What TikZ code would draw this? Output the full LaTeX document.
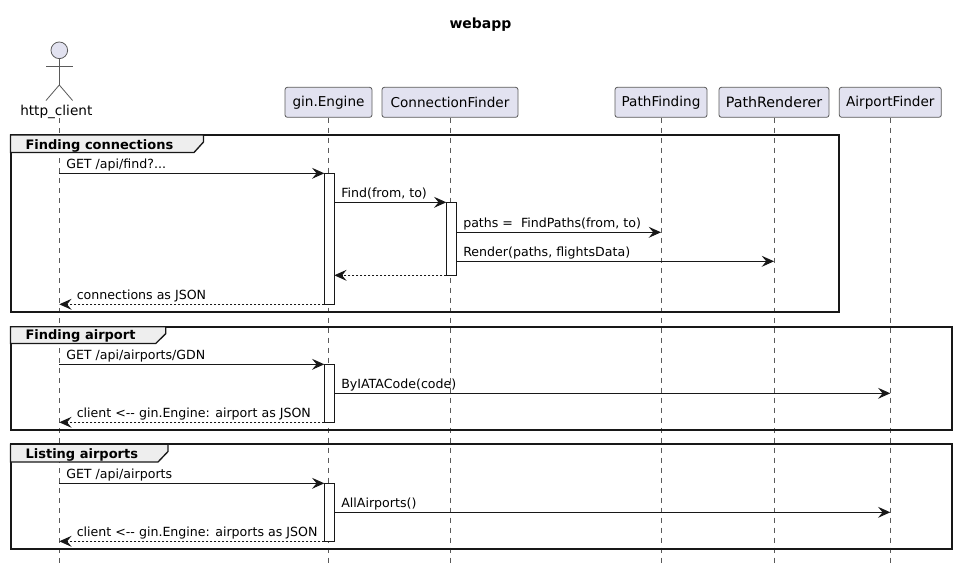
\documentclass[tikz,border=0pt]{standalone}
\usepackage{fontspec}
\setmainfont{DejaVu Sans}
\usetikzlibrary{arrows.meta}
\definecolor{boxfill}{HTML}{E2E2F0}
\definecolor{tabfill}{HTML}{EEEEEE}
\definecolor{ink}{HTML}{181818}
\definecolor{thinink}{HTML}{5A5A5A}
\tikzset{
  part/.style={draw=thinink,fill=boxfill,line width=0.6pt,rounded corners=1.8pt,inner sep=0pt,minimum height=22.5pt,font=\fontsize{10.2pt}{12pt}\selectfont},
  life/.style={draw=thinink,line width=0.5pt,dash pattern=on 3.75pt off 3.75pt},
  actbox/.style={draw=ink,fill=white,line width=0.75pt,inner sep=0pt,outer sep=0pt,minimum width=7.5pt},
  msg/.style={draw=ink,line width=0.75pt,-{Stealth[length=9.2pt,width=8.2pt,inset=3.4pt]}},
  reply/.style={msg,dash pattern=on 1.5pt off 1.5pt},
  msgtext/.style={anchor=base west,inner sep=0pt,font=\fontsize{9.45pt}{12pt}\selectfont},
  frameline/.style={draw=ink,line width=1.5pt},
  tablabel/.style={anchor=base west,inner sep=0pt,font=\fontsize{9.75pt}{12pt}\selectfont\bfseries},
  stick/.style={draw=thinink,line width=0.6pt},
}
\begin{document}
\begin{tikzpicture}[x=0.75pt,y=0.75pt,yscale=-1,xscale=1]
\useasboundingbox (0,0) rectangle (956,572);

% Title
\node[anchor=base,inner sep=0pt,font=\fontsize{10.5pt}{12pt}\selectfont\bfseries] (title) at (480.5,28) {webapp};

% Participants
\node[part,minimum width=65.25pt] (gin) at (328.5,102.3) {gin.Engine};
\node[part,minimum width=102pt] (connfinder) at (450,102.3) {ConnectionFinder};
\node[part,minimum width=69pt] (pathfinding) at (661,102.3) {PathFinding};
\node[part,minimum width=82.5pt,font=\fontsize{10.7pt}{12pt}\selectfont] (pathrenderer) at (774,102.3) {PathRenderer};
\node[part,minimum width=76.5pt] (airportfinder) at (890.3,102.3) {AirportFinder};

% Actor
\node[draw=thinink,fill=boxfill,line width=0.6pt,circle,inner sep=0pt,minimum size=12.5pt] (head) at (59.3,50.3) {};
\coordinate (hip) at (59.3,85);
\coordinate (armL) at (46,66.3);
\coordinate (armR) at (72.6,66.3);
\coordinate (footL) at (46,100.5);
\coordinate (footR) at (72.6,100.5);
\draw[stick] (head.south) -- (hip);
\draw[stick] (armL) -- (armR);
\draw[stick] (footL) -- (hip) -- (footR);
\node[anchor=base,inner sep=0pt,font=\fontsize{10.2pt}{12pt}\selectfont] (client) at (56.3,115) {http\_client};

% Lifelines
\coordinate (clienttop) at (59.3,118);
\coordinate (clientend) at (59.3,564);
\coordinate (ginend) at (328.5,564);
\coordinate (connend) at (450,564);
\coordinate (pathfindend) at (661,564);
\coordinate (pathrendend) at (774,564);
\coordinate (airportend) at (890.3,564);
\draw[life] (clienttop) -- (clientend);
\draw[life] (gin.south) -- (ginend);
\draw[life] (connfinder.south) -- (connend);
\draw[life] (pathfinding.south) -- (pathfindend);
\draw[life] (pathrenderer.south) -- (pathrendend);
\draw[life] (airportfinder.south) -- (airportend);

% Group frames
\draw[frameline] (10.5,135) rectangle (839,312.3);
\draw[frameline] (10.5,326.7) rectangle (951.5,430.3);
\draw[frameline] (10.5,444.3) rectangle (951.5,549.3);

% Group tabs
\draw[frameline,line width=1pt,fill=tabfill] (10.5,135) -- (203.5,135) -- (203.5,142) -- (194,152.5) -- (10.5,152.5) -- cycle;
\node[tablabel] (tabconn) at (25.3,149) {Finding connections};
\draw[frameline,line width=1pt,fill=tabfill] (10.5,326.7) -- (165.7,326.7) -- (165.7,333.7) -- (155.7,343.5) -- (10.5,343.5) -- cycle;
\node[tablabel] (tabfind) at (25.3,339.8) {Finding airport};
\draw[frameline,line width=1pt,fill=tabfill] (10.5,444.3) -- (168,444.3) -- (168,451.5) -- (158,462) -- (10.5,462) -- cycle;
\node[tablabel] (tablist) at (25.3,458.3) {Listing airports};

% Activations
\node[actbox,minimum height=98.25pt] (actgin) at (329.3,238.8) {};
\node[actbox,minimum height=54.75pt] (actconn) at (451.3,238.8) {};
\node[actbox,minimum height=43.5pt] (actginb) at (329.3,393.3) {};
\node[actbox,minimum height=43.5pt] (actginc) at (329.3,512.3) {};

% Free ends of the messages
\coordinate (m1) at (59.3,173.3);
\coordinate (m2a) at (334.3,202.3);
\coordinate (m3a) at (661,232.3);
\coordinate (m3b) at (456.3,232.3);
\coordinate (m4a) at (774,261.3);
\coordinate (m4b) at (456.3,261.3);
\coordinate (m5a) at (334.3,275.3);
\coordinate (m6) at (59.3,304.3);
\coordinate (m7) at (59.3,364.3);
\coordinate (m8a) at (334.3,393.3);
\coordinate (m8b) at (890.3,393.3);
\coordinate (m9) at (59.3,422.3);
\coordinate (m10) at (59.3,483.3);
\coordinate (m11a) at (334.3,512.3);
\coordinate (m11b) at (890.3,512.3);
\coordinate (m12) at (59.3,541.3);

% Messages
\draw[msg] (m1) -- (actgin.north west);
\node[msgtext] (l1) at (66,168.3) {GET /api/find?...};
\draw[msg] (m2a) -- (actconn.north west);
\node[msgtext] (l2) at (341,197.3) {Find(from, to)};
\draw[msg] (m3b) -- (m3a);
\node[msgtext] (l3) at (463,227.3) {paths =\ \ FindPaths(from, to)};
\draw[msg] (m4b) -- (m4a);
\node[msgtext] (l4) at (463,256.3) {Render(paths, flightsData)};
\draw[reply] (actconn.south west) -- (m5a);
\draw[reply] (actgin.south west) -- (m6);
\node[msgtext] (l6) at (76.5,299.3) {connections as JSON};
\draw[msg] (m7) -- (actginb.north west);
\node[msgtext] (l7) at (66,359.5) {GET /api/airports/GDN};
\draw[msg] (m8a) -- (m8b);
\node[msgtext] (l8) at (341,388.3) {ByIATACode(code)};
\draw[reply] (actginb.south west) -- (m9);
\node[msgtext] (l9) at (76.5,417.3) {client <{-}{-} gin.Engine: airport as JSON};
\draw[msg] (m10) -- (actginc.north west);
\node[msgtext] (l10) at (66,478.3) {GET /api/airports};
\draw[msg] (m11a) -- (m11b);
\node[msgtext] (l11) at (341,507.3) {AllAirports()};
\draw[reply] (actginc.south west) -- (m12);
\node[msgtext] (l12) at (76.5,536.3) {client <{-}{-} gin.Engine: airports as JSON};

\end{tikzpicture}
\end{document}
